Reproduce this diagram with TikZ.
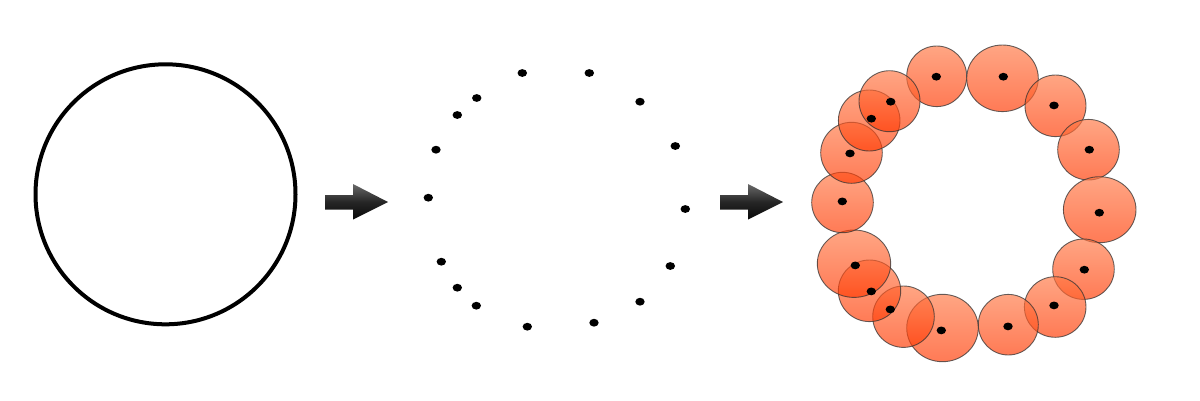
\documentclass[tikz,border=0pt]{standalone}
\usetikzlibrary{shapes.geometric}
\definecolor{orangetop}{RGB}{255,121,70}
\definecolor{orangebot}{RGB}{255,57,2}
\definecolor{arrowtop}{RGB}{105,105,105}
\definecolor{arrowbot}{RGB}{8,8,8}
\tikzset{
  bigarrow/.style={top color=arrowtop, bottom color=arrowbot, middle color=black!85, draw=none},
  blob/.style={top color=orangetop, bottom color=orangebot, fill opacity=0.67, draw=black!80, draw opacity=0.75, line width=0.9pt},
  dotmark/.style={fill=black, draw=none},
}
\begin{document}
\begin{tikzpicture}[x=1pt,y=-1pt]
\useasboundingbox (0,0) rectangle (1200,400);
% left circle
\draw[line width=4pt, black] (165.5,194.3) circle[radius=130];
% arrows
\foreach \dx in {0,395}{
  \path[bigarrow] (325+\dx,195) -- (353+\dx,195) -- (353+\dx,184) -- (388+\dx,202) -- (353+\dx,219.5) -- (353+\dx,209.5) -- (325+\dx,209.5) -- cycle;
}
% middle dots
\foreach \x/\y in {522.3/73, 589.3/73, 476.7/98, 640/101.7, 457.3/115, 675.3/146, 436/149.7, 428.3/197.7, 685.3/209, 441.3/261.7, 670.3/266, 457.3/287.7, 476.3/305.7, 640/301.7, 527.3/326.7, 594/322.7}{
  \path[dotmark] (\x,\y) ellipse[x radius=4.7, y radius=3.9];
}
% right blobs
\foreach \x/\y/\rx/\ry in {936.7/76.3/30/30.3, 1002.5/78.3/35.8/33.3, 1055.5/105.8/30.5/30.8, 1088.5/149.7/30.8/30.3, 1099.7/209.7/36.3/33, 1083.5/269.2/30.8/30.2, 1055.2/307/30.8/30.3, 1008.3/324.7/30/30.3, 942.5/328/35.8/33.7, 903.5/316.7/30.8/30.7, 869.5/290.8/31.2/30.8, 854/263.7/36.7/33.7, 842.5/202.5/30.8/30.2, 851.5/152.8/30.8/30.5, 869.2/120.5/30.8/30.5, 889.5/101.2/30.5/30.5}{
  \path[blob] (\x,\y) ellipse[x radius=\rx, y radius=\ry];
}
% right dots
\foreach \x/\y in {522.3/73, 589.3/73, 476.7/98, 640/101.7, 457.3/115, 675.3/146, 436/149.7, 428.3/197.7, 685.3/209, 441.3/261.7, 670.3/266, 457.3/287.7, 476.3/305.7, 640/301.7, 527.3/326.7, 594/322.7}{
  \path[dotmark] (\x+414,\y+3.7) ellipse[x radius=4.7, y radius=3.9];
}
\end{tikzpicture}
\end{document}
